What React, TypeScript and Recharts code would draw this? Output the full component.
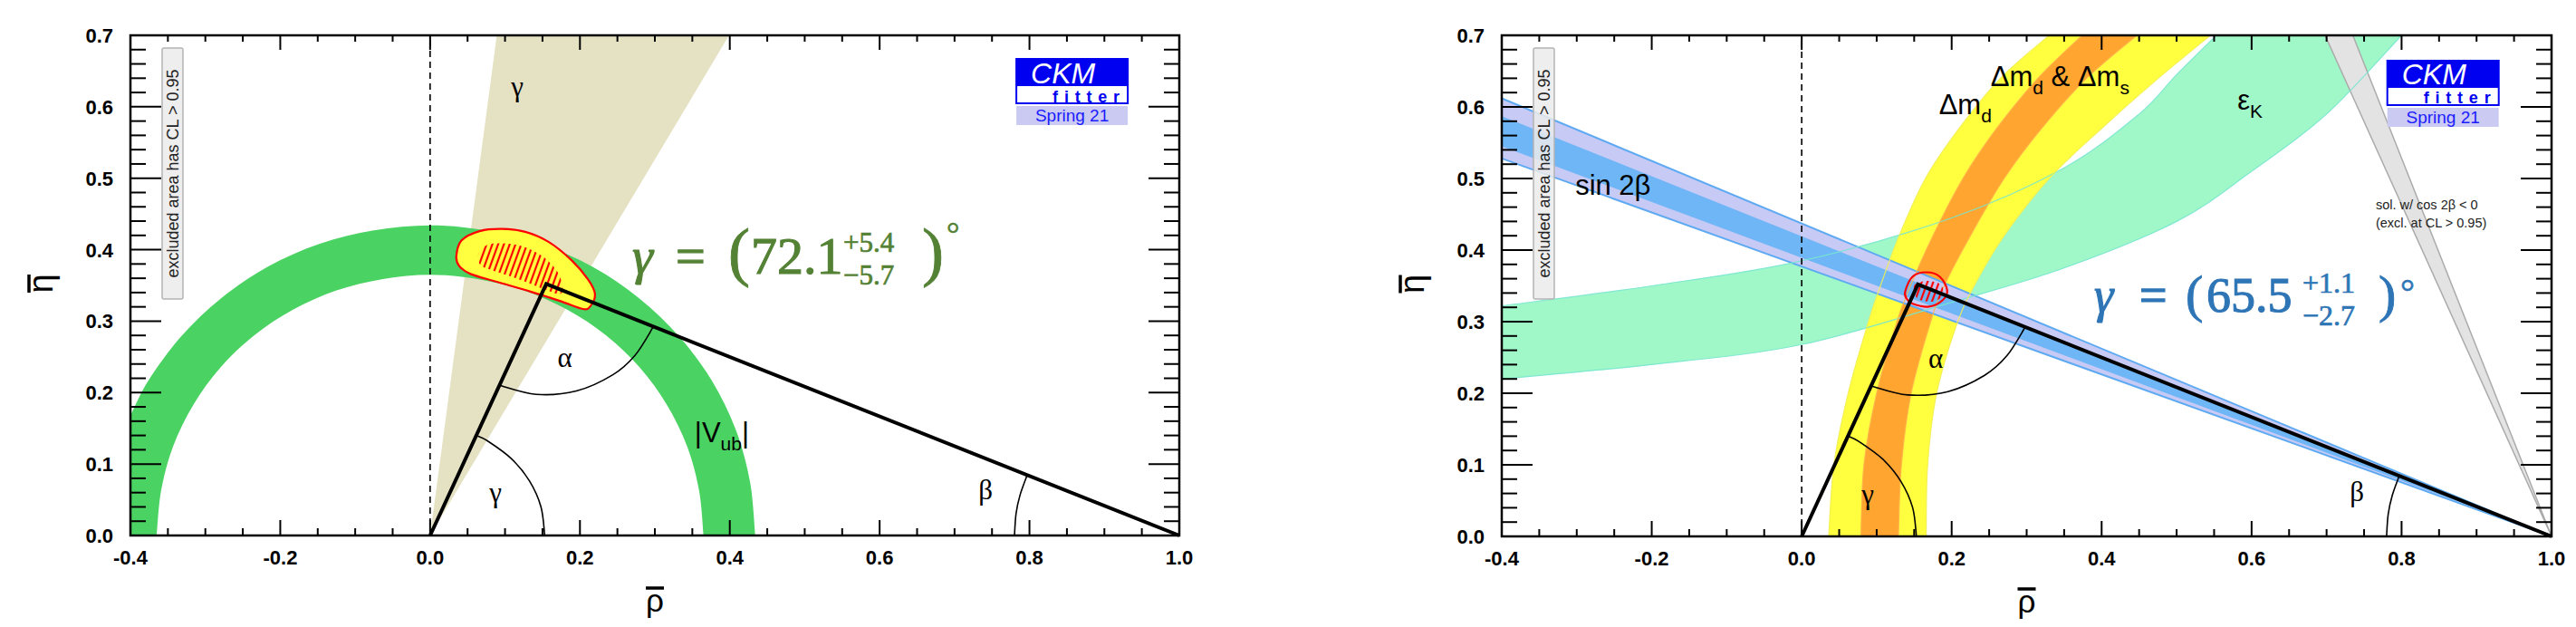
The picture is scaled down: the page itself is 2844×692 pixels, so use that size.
import { ComposedChart, Scatter, XAxis, YAxis } from 'recharts';

type Pt = { x: number; y: number };
type Note = Pt & { text: string };

// axis ticks (rho-bar horizontal, eta-bar vertical)
const rhoTicks = [
  -0.4, -0.35, -0.3, -0.25, -0.2, -0.15, -0.1, -0.05, 0, 0.05, 0.1, 0.15, 0.2, 0.25, 0.3, 0.35, 0.4,
  0.45, 0.5, 0.55, 0.6, 0.65, 0.7, 0.75, 0.8, 0.85, 0.9, 0.95, 1.0,
];
const rhoMajor = [-0.4, -0.2, 0, 0.2, 0.4, 0.6, 0.8, 1.0];
const etaTicks = [
  0, 0.02, 0.04, 0.06, 0.08, 0.1, 0.12, 0.14, 0.16, 0.18, 0.2, 0.22, 0.24, 0.26, 0.28, 0.3, 0.32,
  0.34, 0.36, 0.38, 0.4, 0.42, 0.44, 0.46, 0.48, 0.5, 0.52, 0.54, 0.56, 0.58, 0.6, 0.62, 0.64, 0.66,
  0.68, 0.7,
];
const etaMajor = [0, 0.1, 0.2, 0.3, 0.4, 0.5, 0.6, 0.7];

// common geometry
const plotFrame: Pt[] = [
  { x: -0.4, y: 0 }, { x: 1.0, y: 0 }, { x: 1.0, y: 0.7 }, { x: -0.4, y: 0.7 },
];
const rhoZeroLine: Pt[] = [{ x: 0, y: 0 }, { x: 0, y: 0.7 }];
const utTriangle: Pt[] = [{ x: 0, y: 0 }, { x: 0.155, y: 0.352 }, { x: 1.0, y: 0 }];
const gammaArc: Pt[] = [
  { x: 0.153, y: 0 }, { x: 0.148, y: 0.04 }, { x: 0.1325, y: 0.0765 }, { x: 0.108, y: 0.108 },
  { x: 0.0765, y: 0.1325 }, { x: 0.062, y: 0.14 },
];
const alphaArc: Pt[] = [
  { x: 0.0925, y: 0.2102 }, { x: 0.1415, y: 0.1976 }, { x: 0.1951, y: 0.2023 },
  { x: 0.2439, y: 0.225 }, { x: 0.2737, y: 0.2524 }, { x: 0.2981, y: 0.2924 },
];
const betaArc: Pt[] = [
  { x: 0.78, y: 0 }, { x: 0.7821, y: 0.0306 }, { x: 0.7875, y: 0.0569 }, { x: 0.7969, y: 0.0845 },
];

// left panel: gamma + |Vub|
const gammaBand: Pt[] = [{ x: 0, y: 0 }, { x: 0.089, y: 0.7 }, { x: 0.399, y: 0.7 }];
const vubOuter: Pt[] = [
  { x: -0.4, y: 0.168 }, { x: -0.376, y: 0.217 }, { x: -0.332, y: 0.279 }, { x: -0.279, y: 0.332 },
  { x: -0.217, y: 0.376 }, { x: -0.148, y: 0.408 }, { x: -0.075, y: 0.427 }, { x: 0, y: 0.434 },
  { x: 0.075, y: 0.427 }, { x: 0.148, y: 0.408 }, { x: 0.217, y: 0.376 }, { x: 0.279, y: 0.332 },
  { x: 0.332, y: 0.279 }, { x: 0.376, y: 0.217 }, { x: 0.408, y: 0.148 }, { x: 0.427, y: 0.075 },
  { x: 0.434, y: 0 },
];
const vubInner: Pt[] = [
  { x: 0.365, y: 0 }, { x: 0.359, y: 0.063 }, { x: 0.343, y: 0.125 }, { x: 0.316, y: 0.183 },
  { x: 0.28, y: 0.235 }, { x: 0.235, y: 0.28 }, { x: 0.183, y: 0.316 }, { x: 0.125, y: 0.343 },
  { x: 0.063, y: 0.359 }, { x: 0, y: 0.365 }, { x: -0.063, y: 0.359 }, { x: -0.125, y: 0.343 },
  { x: -0.183, y: 0.316 }, { x: -0.235, y: 0.28 }, { x: -0.28, y: 0.235 }, { x: -0.316, y: 0.183 },
  { x: -0.343, y: 0.125 }, { x: -0.359, y: 0.063 }, { x: -0.365, y: 0 },
];
const vubCorner: Pt[] = [{ x: -0.4, y: 0 }];
const fitOuterL: Pt[] = [
  { x: 0.035, y: 0.391 }, { x: 0.042, y: 0.413 }, { x: 0.066, y: 0.426 }, { x: 0.096, y: 0.429 },
  { x: 0.127, y: 0.425 }, { x: 0.158, y: 0.411 }, { x: 0.189, y: 0.385 }, { x: 0.211, y: 0.358 },
  { x: 0.22, y: 0.338 }, { x: 0.214, y: 0.321 }, { x: 0.204, y: 0.317 }, { x: 0.174, y: 0.328 },
  { x: 0.135, y: 0.341 }, { x: 0.089, y: 0.355 }, { x: 0.054, y: 0.366 }, { x: 0.039, y: 0.377 },
];
const fitCoreL: Pt[] = [
  { x: 0.066, y: 0.397 }, { x: 0.077, y: 0.407 }, { x: 0.096, y: 0.409 }, { x: 0.123, y: 0.405 },
  { x: 0.15, y: 0.391 }, { x: 0.17, y: 0.369 }, { x: 0.177, y: 0.346 }, { x: 0.172, y: 0.338 },
  { x: 0.154, y: 0.344 }, { x: 0.12, y: 0.358 }, { x: 0.089, y: 0.369 }, { x: 0.069, y: 0.377 },
  { x: 0.064, y: 0.387 },
];
const greekLeft: Note[] = [
  { x: 0.108, y: 0.615, text: 'γ' },
  { x: 0.079, y: 0.047, text: 'γ' },
  { x: 0.17, y: 0.236, text: 'α' },
  { x: 0.732, y: 0.051, text: 'β' },
];
const textLeft: Note[] = [{ x: 0.353, y: 0.131, text: '|V_{ub}|' }];
const gammaLeftAt: Pt[] = [{ x: 0.2698, y: 0.3665 }];
const gammaLeft = { value: '72.1', plus: '+5.4', minus: '−5.7' };

// right panel: full fit
const sin2bOuter: Pt[] = [{ x: 1.0, y: 0 }, { x: -0.4, y: 0.612 }, { x: -0.4, y: 0.528 }];
const sin2bCore: Pt[] = [{ x: 1.0, y: 0 }, { x: -0.4, y: 0.587 }, { x: -0.4, y: 0.545 }];
const cos2bWedge: Pt[] = [{ x: 1.0, y: 0 }, { x: 0.698, y: 0.7 }, { x: 0.735, y: 0.7 }];
const epsUpper: Pt[] = [
  { x: -0.4, y: 0.322 }, { x: -0.2, y: 0.35 }, { x: 0, y: 0.385 }, { x: 0.2, y: 0.445 },
  { x: 0.35, y: 0.515 }, { x: 0.45, y: 0.59 }, { x: 0.5, y: 0.645 }, { x: 0.553, y: 0.7 },
];
const epsLower: Pt[] = [
  { x: 0.8, y: 0.7 }, { x: 0.7, y: 0.59 }, { x: 0.6, y: 0.51 }, { x: 0.5, y: 0.44 },
  { x: 0.35, y: 0.375 }, { x: 0.2, y: 0.327 }, { x: 0, y: 0.268 }, { x: -0.2, y: 0.24 },
  { x: -0.4, y: 0.22 },
];
const dmdLeft: Pt[] = [
  { x: 0.036, y: 0 }, { x: 0.043, y: 0.1 }, { x: 0.062, y: 0.2 }, { x: 0.089, y: 0.3 },
  { x: 0.105, y: 0.35 }, { x: 0.13, y: 0.42 }, { x: 0.165, y: 0.5 }, { x: 0.21, y: 0.57 },
  { x: 0.265, y: 0.64 }, { x: 0.33, y: 0.7 },
];
const dmdRight: Pt[] = [
  { x: 0.545, y: 0.7 }, { x: 0.47, y: 0.635 }, { x: 0.4, y: 0.57 }, { x: 0.33, y: 0.5 },
  { x: 0.27, y: 0.42 }, { x: 0.23, y: 0.35 }, { x: 0.208, y: 0.3 }, { x: 0.18, y: 0.2 },
  { x: 0.168, y: 0.1 }, { x: 0.166, y: 0 },
];
const dmsLeft: Pt[] = [
  { x: 0.079, y: 0 }, { x: 0.083, y: 0.1 }, { x: 0.1, y: 0.2 }, { x: 0.127, y: 0.3 },
  { x: 0.145, y: 0.35 }, { x: 0.175, y: 0.42 }, { x: 0.215, y: 0.5 }, { x: 0.26, y: 0.57 },
  { x: 0.315, y: 0.64 }, { x: 0.374, y: 0.7 },
];
const dmsRight: Pt[] = [
  { x: 0.447, y: 0.7 }, { x: 0.38, y: 0.64 }, { x: 0.32, y: 0.57 }, { x: 0.27, y: 0.5 },
  { x: 0.225, y: 0.42 }, { x: 0.19, y: 0.35 }, { x: 0.172, y: 0.3 }, { x: 0.146, y: 0.2 },
  { x: 0.133, y: 0.1 }, { x: 0.129, y: 0 },
];
const fitOuterR: Pt[] = [
  { x: 0.138, y: 0.342 }, { x: 0.148, y: 0.363 }, { x: 0.166, y: 0.369 }, { x: 0.184, y: 0.363 },
  { x: 0.194, y: 0.344 }, { x: 0.188, y: 0.33 }, { x: 0.17, y: 0.321 }, { x: 0.148, y: 0.325 },
  { x: 0.14, y: 0.332 },
];
const fitCoreR: Pt[] = [
  { x: 0.152, y: 0.353 }, { x: 0.17, y: 0.357 }, { x: 0.186, y: 0.351 }, { x: 0.188, y: 0.336 },
  { x: 0.174, y: 0.328 }, { x: 0.156, y: 0.331 }, { x: 0.15, y: 0.342 },
];
const greekRight: Note[] = [
  { x: 0.08, y: 0.045, text: 'γ' },
  { x: 0.169, y: 0.236, text: 'α' },
  { x: 0.731, y: 0.049, text: 'β' },
];
const textRight: Note[] = [
  { x: -0.302, y: 0.477, text: 'sin 2β' },
  { x: 0.183, y: 0.59, text: 'Δm_{d}' },
  { x: 0.252, y: 0.629, text: 'Δm_{d} & Δm_{s}' },
  { x: 0.581, y: 0.596, text: 'ε_{K}' },
];
const noteRight: Note[] = [
  { x: 0.7656, y: 0.457, text: 'sol. w/ cos 2β < 0' },
  { x: 0.7656, y: 0.4316, text: '(excl. at CL > 0.95)' },
];
const gammaRightAt: Pt[] = [{ x: 0.39, y: 0.314 }];
const gammaRight = { value: '65.5', plus: '+1.1', minus: '−2.7' };
const logoLeftAt: Pt[] = [{ x: 0.7825, y: 0.667 }];
const logoRightAt: Pt[] = [{ x: 0.781, y: 0.6646 }];
const cornerAt: Pt[] = [{ x: -0.4, y: 0.7 }];

const SANS = 'Liberation Sans, Arial, Helvetica, sans-serif';
const SERIF = 'Liberation Serif, Times New Roman, serif';

const f2 = (n: number) => n.toFixed(2);

// catmull-rom through each edge; edges joined with straight segments
function edgePath(points: Pt[], sizes: number[], smooth: boolean, closed: boolean) {
  let d = '';
  let i = 0;
  sizes.forEach((n, k) => {
    const seg = points.slice(i, i + n);
    i += n;
    seg.forEach((p, j) => {
      if (j === 0) {
        d += (k === 0 ? 'M' : 'L') + f2(p.x) + ',' + f2(p.y);
        return;
      }
      if (!smooth) {
        d += 'L' + f2(p.x) + ',' + f2(p.y);
        return;
      }
      const p0 = seg[j - 2] || seg[j - 1];
      const p1 = seg[j - 1];
      const p3 = seg[j + 1] || p;
      d += `C${f2(p1.x + (p.x - p0.x) / 6)},${f2(p1.y + (p.y - p0.y) / 6)} ${f2(p.x - (p3.x - p1.x) / 6)},${f2(p.y - (p3.y - p1.y) / 6)} ${f2(p.x)},${f2(p.y)}`;
    });
  });
  return closed ? d + 'Z' : d;
}

// closed smooth contour
function loopPath(pts: Pt[]) {
  const n = pts.length;
  let d = 'M' + f2(pts[0].x) + ',' + f2(pts[0].y);
  for (let j = 0; j < n; j++) {
    const p0 = pts[(j - 1 + n) % n];
    const p1 = pts[j];
    const p2 = pts[(j + 1) % n];
    const p3 = pts[(j + 2) % n];
    d += `C${f2(p1.x + (p2.x - p0.x) / 6)},${f2(p1.y + (p2.y - p0.y) / 6)} ${f2(p2.x - (p3.x - p1.x) / 6)},${f2(p2.y - (p3.y - p1.y) / 6)} ${f2(p2.x)},${f2(p2.y)}`;
  }
  return d + 'Z';
}

const noDot = () => <g />;

function shape(
  id: string,
  edges: Pt[][],
  style: any,
  mode: 'smooth' | 'linear' | 'loop' = 'smooth',
  closed = true,
) {
  const sizes = edges.map((e) => e.length);
  return (
    <Scatter
      key={id}
      data={edges.flat()}
      shape={noDot}
      isAnimationActive={false}
      line={(lp: any) => (
        <path
          d={mode === 'loop' ? loopPath(lp.points) : edgePath(lp.points, sizes, mode === 'smooth', closed)}
          {...style}
        />
      )}
    />
  );
}

function marks(id: string, data: any[], draw: (x: number, y: number, n: any) => any) {
  return (
    <Scatter
      key={id}
      data={data}
      isAnimationActive={false}
      shape={(p: any) => draw(p.cx, p.cy, p.payload)}
    />
  );
}

function rich(text: string, sub: number, shift: number) {
  const parts = text.split(/_\{([^}]*)\}/);
  return parts.map((s, i) =>
    i % 2 ? (
      <tspan key={i} fontSize={sub} dy={shift}>
        {s}
      </tspan>
    ) : (
      <tspan key={i} dy={i ? -shift : 0}>
        {s}
      </tspan>
    ),
  );
}

const greekText = (x: number, y: number, n: Note) => (
  <text x={x} y={y} fontFamily={SERIF} fontSize={31} fill="#000">
    {n.text}
  </text>
);
const sansText = (x: number, y: number, n: Note) => (
  <text x={x} y={y} fontFamily={SANS} fontSize={31} fill="#000">
    {rich(n.text, 21, 9)}
  </text>
);
const smallText = (x: number, y: number, n: Note) => (
  <text x={x} y={y} fontFamily={SANS} fontSize={14.5} fill="#222">
    {n.text}
  </text>
);

function Logo(x: number, y: number) {
  return (
    <g>
      <rect x={x} y={y} width={123} height={49} fill="#fff" stroke="#0000f0" strokeWidth={2} />
      <rect x={x} y={y} width={123} height={30} fill="#0000f0" />
      <text x={x + 16} y={y + 26.5} fill="#fff" fontFamily={SANS} fontStyle="italic" fontSize={32}>
        CKM
      </text>
      <text x={x + 40} y={y + 47.5} fill="#0000f0" fontFamily={SANS} fontWeight="bold" fontSize={18} letterSpacing={6.8}>
        fitter
      </text>
      <rect x={x} y={y + 52} width={123} height={21} fill="#cacaf2" />
      <text x={x + 61.5} y={y + 69} textAnchor="middle" fill="#1c1cff" fontFamily={SANS} fontSize={19}>
        Spring 21
      </text>
    </g>
  );
}

function ExclBox(x: number, y: number) {
  const cx = x + 46.5;
  const cy = y + 152.5;
  return (
    <g>
      <rect x={x + 35} y={y + 14} width={23} height={277} rx={2} fill="#ebebeb" fillOpacity={0.85} stroke="#b4b4b4" strokeWidth={1.5} />
      <text x={cx} y={cy} transform={`rotate(-90 ${cx} ${cy})`} textAnchor="middle" dominantBaseline="central" fontFamily={SANS} fontSize={18} fill="#222">
        excluded area has CL &gt; 0.95
      </text>
    </g>
  );
}

type FormulaLayout = {
  size: number; paren: number; script: number; deg: number;
  supDy: number; subDy: number; degDy: number;
  eq: number; lp: number; num: number; scr: number; rp: number; dg: number;
};
const layoutLeft: FormulaLayout = {
  size: 58, paren: 72, script: 31, deg: 36, supDy: -24, subDy: 12, degDy: -32,
  eq: 48, lp: 106, num: 131, scr: 233, rp: 320, dg: 347,
};
const layoutRight: FormulaLayout = {
  size: 54, paren: 58, script: 32, deg: 40, supDy: -21, subDy: 15, degDy: -8,
  eq: 50, lp: 101, num: 124, scr: 230, rp: 314, dg: 338,
};

function Formula(x: number, y: number, f: typeof gammaLeft, L: FormulaLayout, color: string) {
  return (
    <g fill={color} stroke={color} fontFamily={SERIF}>
      <text x={x} y={y} fontSize={L.size} fontStyle="italic" strokeWidth={1.1}>γ</text>
      <text x={x + L.eq} y={y} fontSize={L.size} strokeWidth={1.4}>=</text>
      <text x={x + L.lp} y={y} fontSize={L.paren} strokeWidth={0.9}>(</text>
      <text x={x + L.num} y={y} fontSize={L.size} strokeWidth={1.1}>{f.value}</text>
      <text x={x + L.scr} y={y + L.supDy} fontSize={L.script} strokeWidth={0.7}>{f.plus}</text>
      <text x={x + L.scr} y={y + L.subDy} fontSize={L.script} strokeWidth={0.7}>{f.minus}</text>
      <text x={x + L.rp} y={y} fontSize={L.paren} strokeWidth={0.9}>)</text>
      <text x={x + L.dg} y={y + L.degDy} fontSize={L.deg} strokeWidth={0.6}>°</text>
    </g>
  );
}

const tickFont = { fontFamily: SANS, fontWeight: 700, fontSize: 22, fill: '#000' } as const;
const near = (list: number[], v: number) => list.some((m) => Math.abs(m - v) < 1e-6);

const xTick = (plotH: number) => (p: any) => {
  const { x, y } = p;
  const v = p.payload.value;
  const major = near(rhoMajor, v);
  return (
    <g>
      <line x1={x} y1={y} x2={x} y2={y - (major ? 17 : 8)} stroke="#000" strokeWidth={2} />
      <line x1={x} y1={y - plotH} x2={x} y2={y - plotH + (major ? 16 : 7)} stroke="#000" strokeWidth={2} />
      {major && (
        <text x={x} y={y + 32} textAnchor="middle" {...tickFont}>
          {v.toFixed(1)}
        </text>
      )}
    </g>
  );
};

const yTick = (plotW: number) => (p: any) => {
  const { x, y } = p;
  const v = p.payload.value;
  const major = near(etaMajor, v);
  const len = major ? 34 : 17;
  return (
    <g>
      <line x1={x} y1={y} x2={x + len} y2={y} stroke="#000" strokeWidth={2} />
      <line x1={x + plotW} y1={y} x2={x + plotW - len} y2={y} stroke="#000" strokeWidth={2} />
      {major && (
        <text x={x - 19} y={y + 8} textAnchor="end" {...tickFont}>
          {v.toFixed(1)}
        </text>
      )}
    </g>
  );
};

const rhoTitle = (p: any) => {
  const { x, y, width } = p.viewBox;
  const cx = x + width / 2;
  return (
    <g>
      <line x1={cx - 10} y1={y + 58} x2={cx + 10} y2={y + 58} stroke="#000" strokeWidth={3.5} />
      <text x={cx} y={y + 84} textAnchor="middle" fontFamily={SANS} fontSize={35} fill="#000">ρ</text>
    </g>
  );
};

const etaTitle = (p: any) => {
  const { x, y, width, height } = p.viewBox;
  const left = x + width;
  const cy = y + height / 2 - 2;
  const bx = left - 86;
  return (
    <g>
      <line x1={left - 112} y1={cy - 10} x2={left - 112} y2={cy + 10} stroke="#000" strokeWidth={3.5} />
      <text x={bx} y={cy} transform={`rotate(-90 ${bx} ${cy})`} textAnchor="middle" fontFamily={SANS} fontSize={38} fill="#000">η</text>
    </g>
  );
};

function axes(plotW: number, plotH: number) {
  return [
    <XAxis key="xa" type="number" dataKey="x" domain={[-0.4, 1.0]} ticks={rhoTicks} interval={0} height={10}
      tickSize={0} tickMargin={0} axisLine={false} tickLine={false} tick={xTick(plotH)} label={{ content: rhoTitle }} />,
    <YAxis key="ya" type="number" dataKey="y" domain={[0, 0.7]} ticks={etaTicks} interval={0} width={10}
      tickSize={0} tickMargin={0} axisLine={false} tickLine={false} tick={yTick(plotW)} label={{ content: etaTitle }} />,
  ];
}

function LeftPanel() {
  return (
    <ComposedChart width={1440} height={692} margin={{ top: 39, right: 138, bottom: 91, left: 134 }}>
      {shape('gammaBand', [gammaBand], { fill: '#e5e2c4' }, 'linear')}
      {shape('vub', [vubOuter, vubInner, vubCorner], { fill: '#4ad262' })}
      {shape('fitOuter', [fitOuterL], { fill: '#ffff40', stroke: '#ff0000', strokeWidth: 2.2 }, 'loop')}
      {shape('fitCore', [fitCoreL], { fill: 'url(#fitHatch)' }, 'loop')}
      {shape('zero', [rhoZeroLine], { fill: 'none', stroke: '#000', strokeWidth: 1.6, strokeDasharray: '7 5' }, 'linear', false)}
      {shape('tri', [utTriangle], { fill: 'none', stroke: '#000', strokeWidth: 4, strokeLinejoin: 'miter' }, 'linear', false)}
      {shape('ga', [gammaArc], { fill: 'none', stroke: '#000', strokeWidth: 1.6 }, 'smooth', false)}
      {shape('aa', [alphaArc], { fill: 'none', stroke: '#000', strokeWidth: 1.6 }, 'smooth', false)}
      {shape('ba', [betaArc], { fill: 'none', stroke: '#000', strokeWidth: 1.6 }, 'smooth', false)}
      {marks('greek', greekLeft, greekText)}
      {marks('text', textLeft, sansText)}
      {marks('formula', gammaLeftAt, (x, y) => Formula(x, y, gammaLeft, layoutLeft, '#548235'))}
      {marks('logo', logoLeftAt, (x, y) => Logo(x, y))}
      {marks('excl', cornerAt, (x, y) => ExclBox(x, y))}
      {shape('frame', [plotFrame], { fill: 'none', stroke: '#000', strokeWidth: 2.5 }, 'linear', true)}
      {axes(1158, 552)}
    </ComposedChart>
  );
}

function RightPanel() {
  const edge = (id: string, pts: Pt[], color: string, w = 1.2) =>
    shape(id, [pts], { fill: 'none', stroke: color, strokeWidth: w, strokeOpacity: 0.9 }, 'smooth', false);
  return (
    <ComposedChart width={1404} height={692} margin={{ top: 39, right: 27, bottom: 90, left: 208 }}>
      {shape('eps', [epsUpper, epsLower], { fill: '#a0f8c8' })}
      {shape('dmd', [dmdLeft, dmdRight], { fill: '#ffff40' })}
      {shape('dms', [dmsLeft, dmsRight], { fill: '#ffa530' })}
      {shape('s2bOuter', [sin2bOuter], { fill: '#c8caf6', stroke: '#5eaaf2', strokeWidth: 2 }, 'linear')}
      {shape('s2bCore', [sin2bCore], { fill: '#6fb6f6' }, 'linear')}
      {shape('cos2b', [cos2bWedge], { fill: '#e3e3e3', stroke: '#ababab', strokeWidth: 1.5 }, 'linear')}
      {edge('epsU', epsUpper, '#78e6cf')}
      {edge('epsL', epsLower, '#78e6cf')}
      {edge('dmdL', dmdLeft, '#f2ee50')}
      {edge('dmdR', dmdRight, '#f2ee50')}
      {edge('dmsL', dmsLeft, '#ffb24a')}
      {edge('dmsR', dmsRight, '#ffb24a')}
      {shape('fitCoreR', [fitCoreR], { fill: 'url(#fitHatch)' }, 'loop')}
      {shape('fitOuterR', [fitOuterR], { fill: 'none', stroke: '#ff0000', strokeWidth: 2.2 }, 'loop')}
      {shape('zero', [rhoZeroLine], { fill: 'none', stroke: '#000', strokeWidth: 1.6, strokeDasharray: '7 5' }, 'linear', false)}
      {shape('tri', [utTriangle], { fill: 'none', stroke: '#000', strokeWidth: 4, strokeLinejoin: 'miter' }, 'linear', false)}
      {shape('ga', [gammaArc], { fill: 'none', stroke: '#000', strokeWidth: 1.6 }, 'smooth', false)}
      {shape('aa', [alphaArc], { fill: 'none', stroke: '#000', strokeWidth: 1.6 }, 'smooth', false)}
      {shape('ba', [betaArc], { fill: 'none', stroke: '#000', strokeWidth: 1.6 }, 'smooth', false)}
      {marks('greek', greekRight, greekText)}
      {marks('text', textRight, sansText)}
      {marks('note', noteRight, smallText)}
      {marks('formula', gammaRightAt, (x, y) => Formula(x, y, gammaRight, layoutRight, '#2e75b6'))}
      {marks('logo', logoRightAt, (x, y) => Logo(x, y))}
      {marks('excl', cornerAt, (x, y) => ExclBox(x, y))}
      {shape('frame', [plotFrame], { fill: 'none', stroke: '#000', strokeWidth: 2.5 }, 'linear', true)}
      {axes(1159, 553)}
    </ComposedChart>
  );
}

export default function App() {
  return (
    <div style={{ position: 'absolute', left: 0, top: 0, width: 2844, height: 692, background: '#fff', overflow: 'hidden' }}>
      <svg width={0} height={0} style={{ position: 'absolute' }}>
        <defs>
          <pattern id="fitHatch" patternUnits="userSpaceOnUse" width={6} height={6} patternTransform="rotate(20)">
            <line x1={3} y1={0} x2={3} y2={6} stroke="#ff0000" strokeWidth={2.2} />
          </pattern>
        </defs>
      </svg>
      <div style={{ position: 'absolute', left: 0, top: 0 }}>
        <LeftPanel />
      </div>
      <div style={{ position: 'absolute', left: 1440, top: 0 }}>
        <RightPanel />
      </div>
    </div>
  );
}
